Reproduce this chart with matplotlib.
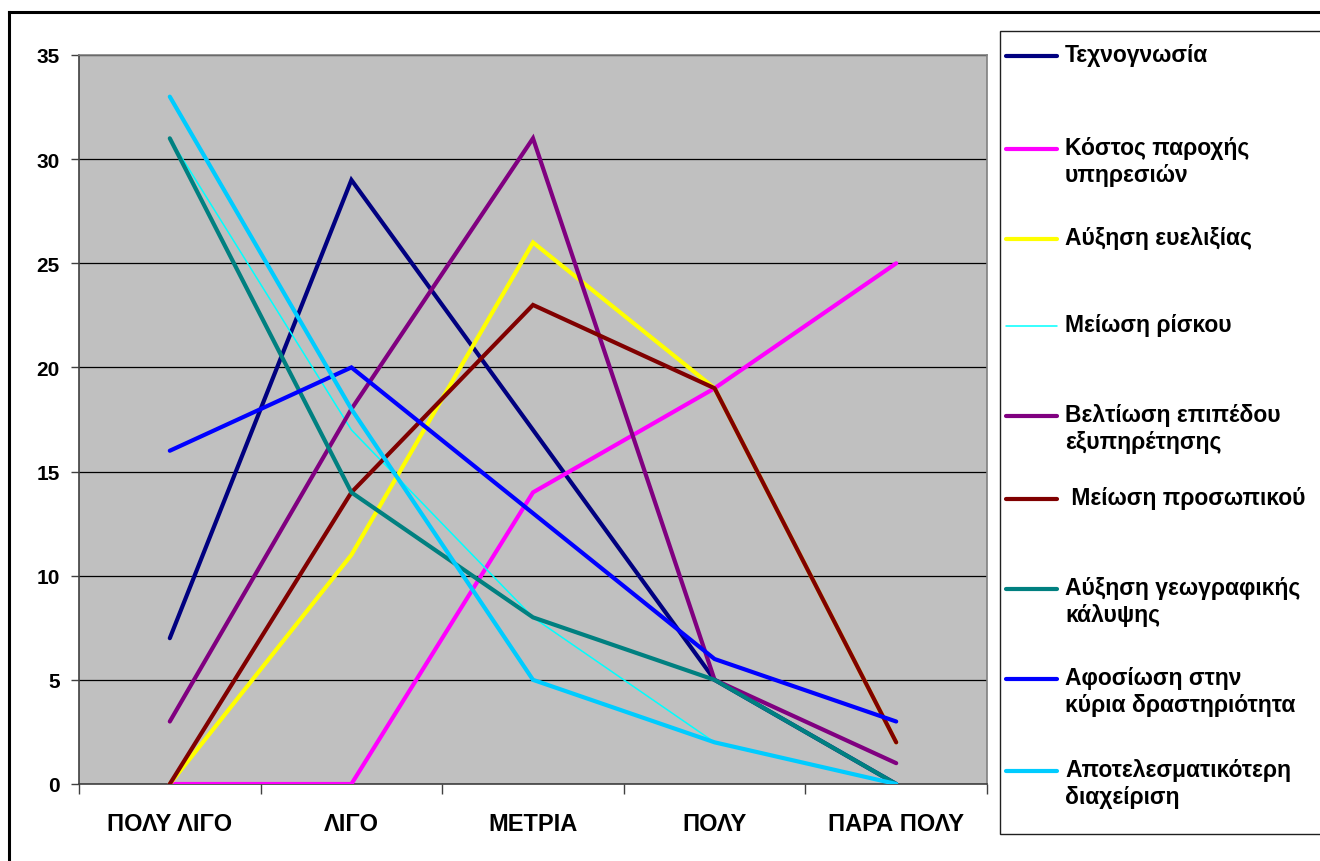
import matplotlib
matplotlib.use('Agg')
import matplotlib.pyplot as plt
from matplotlib.lines import Line2D
from matplotlib.patches import Rectangle

plt.rcParams['font.family'] = ['Liberation Sans', 'DejaVu Sans']

categories = ['ΠΟΛΥ ΛΙΓΟ', 'ΛΙΓΟ', 'ΜΕΤΡΙΑ', 'ΠΟΛΥ', 'ΠΑΡΑ ΠΟΛΥ']

labels = ['Τεχνογνωσία',
          'Κόστος παροχής\nυπηρεσιών',
          'Αύξηση ευελιξίας',
          'Μείωση ρίσκου',
          'Βελτίωση επιπέδου\nεξυπηρέτησης',
          ' Μείωση προσωπικού',
          'Αύξηση γεωγραφικής\nκάλυψης',
          'Αφοσίωση στην\nκύρια δραστηριότητα',
          'Αποτελεσματικότερη\nδιαχείριση']

texnognosia = [7, 29, 17, 5, 0]
kostos = [0, 0, 14, 19, 25]
eveliksia = [0, 11, 26, 19, 2]
risko = [31, 17, 8, 2, 0]
eksypiretisi = [3, 18, 31, 5, 1]
prosopiko = [0, 14, 23, 19, 2]
geografiki = [31, 14, 8, 5, 0]
afosiosi = [16, 20, 13, 6, 3]
diaxeirisi = [33, 18, 5, 2, 0]

series = [texnognosia, kostos, eveliksia, risko, eksypiretisi,
          prosopiko, geografiki, afosiosi, diaxeirisi]
colors = ['#000080', '#FF00FF', '#FFFF00', '#00FFFF', '#800080',
          '#800000', '#008080', '#0000FF', '#00CCFF']
widths = [3, 3, 3, 1.1, 3, 3, 3, 3, 3]

W, H = 1320, 862
fig = plt.figure(figsize=(W / 100, H / 100), dpi=100)
fig.patch.set_facecolor('white')

ax = fig.add_axes([79 / W, 1 - 785 / H, 908 / W, 729 / H])
ax.set_facecolor('#C0C0C0')

x = list(range(len(categories)))
for i, (vals, c, lw) in enumerate(zip(series, colors, widths)):
    ax.plot(x, vals, color=c, lw=lw, solid_capstyle='round',
            solid_joinstyle='miter', zorder=3 + i)

ax.set_xlim(-0.5, 4.5)
ax.set_ylim(0, 35)
ax.set_yticks(range(0, 36, 5))
ax.yaxis.grid(True, color='black', lw=0.9)
ax.set_axisbelow(True)

ax.set_xticks(x)
ax.set_xticklabels(categories, fontsize=17, fontweight='bold')
ax.set_xticks([i - 0.5 for i in range(len(categories) + 1)], minor=True)
ax.tick_params(axis='x', which='major', length=0, pad=20)
ax.tick_params(axis='x', which='minor', length=7, width=1, color='#404040')
ax.tick_params(axis='y', length=6, width=1, color='#404040', pad=8,
               labelsize=15)
for t in ax.get_yticklabels():
    t.set_fontweight('bold')

for side in ['top', 'right']:
    ax.spines[side].set_color('#808080')
    ax.spines[side].set_linewidth(1.2)
for side in ['left', 'bottom']:
    ax.spines[side].set_color('#404040')
    ax.spines[side].set_linewidth(1.2)

# outer chart frame (left and top edges visible)
fig.add_artist(Line2D([9 / W, 9 / W], [-0.01, 1 - 13 / H], color='black',
                      lw=2.2, transform=fig.transFigure))
fig.add_artist(Line2D([9 / W, 1.01], [1 - 13 / H, 1 - 13 / H], color='black',
                      lw=2.2, transform=fig.transFigure))

# legend panel
fig.add_artist(Rectangle((1000 / W, 1 - 835 / H), 400 / W, 803 / H,
                         facecolor='white', edgecolor='#202020', lw=1,
                         transform=fig.transFigure))
entry_y = [57, 150, 240, 327, 417, 500, 590, 680, 772]
for lab, c, lw, yy in zip(labels, colors, widths, entry_y):
    fy = 1 - yy / H
    fig.add_artist(Line2D([1006 / W, 1057 / W], [fy, fy], color=c, lw=lw,
                          solid_capstyle='round', transform=fig.transFigure))
    fig.text(1065 / W, fy + 13 / H, lab, fontsize=16.5, fontweight='bold',
             va='top', ha='left', linespacing=1.2)

fig.savefig('out.png', dpi=100)
